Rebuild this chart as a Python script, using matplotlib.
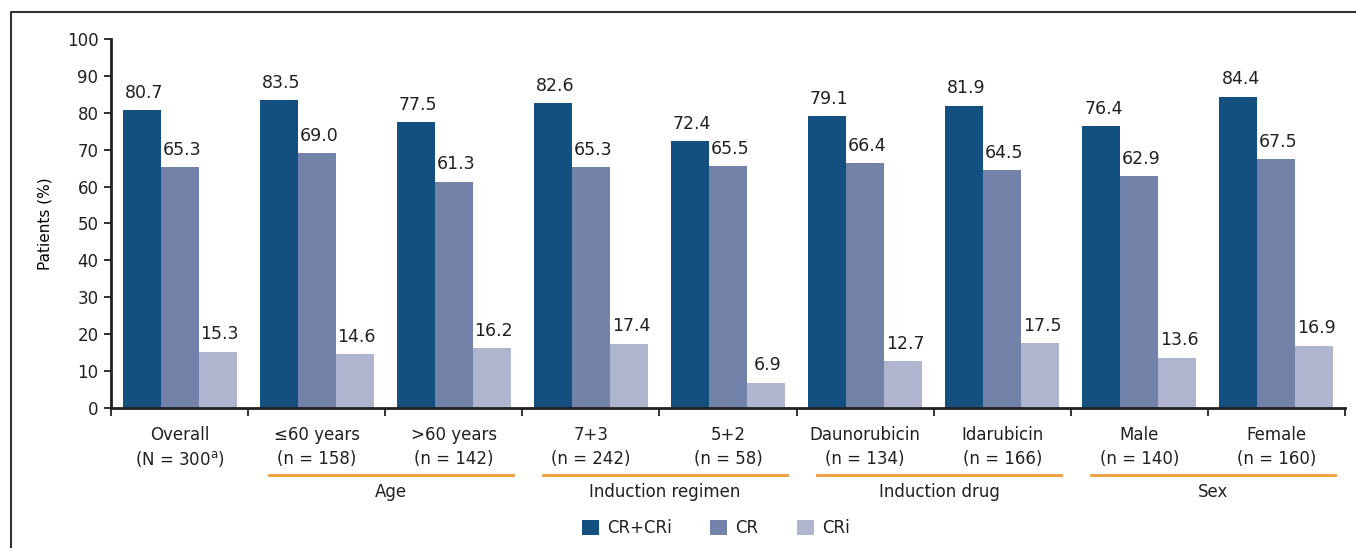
import matplotlib
matplotlib.use('Agg')
import matplotlib.pyplot as plt
from matplotlib.lines import Line2D
from matplotlib.patches import Patch
import numpy as np

categories = ["Overall", "≤60 years", ">60 years", "7+3", "5+2",
              "Daunorubicin", "Idarubicin", "Male", "Female"]
n_labels = ["(N = 300$^{\\mathrm{a}}$)", "(n = 158)", "(n = 142)", "(n = 242)", "(n = 58)",
            "(n = 134)", "(n = 166)", "(n = 140)", "(n = 160)"]
cr_cri = [80.7, 83.5, 77.5, 82.6, 72.4, 79.1, 81.9, 76.4, 84.4]
cr = [65.3, 69.0, 61.3, 65.3, 65.5, 66.4, 64.5, 62.9, 67.5]
cri = [15.3, 14.6, 16.2, 17.4, 6.9, 12.7, 17.5, 13.6, 16.9]
series_names = ["CR+CRi", "CR", "CRi"]
groups = ["Age", "Induction regimen", "Induction drug", "Sex"]
group_spans = [(1, 2), (3, 4), (5, 6), (7, 8)]

colors = ["#13507f", "#7382a8", "#afb4cf"]
text_color = "#231f20"
orange = "#f39a3b"

plt.rcParams['font.family'] = ['DejaVu Sans']
plt.rcParams['text.color'] = text_color
plt.rcParams['axes.edgecolor'] = text_color
plt.rcParams['xtick.color'] = text_color
plt.rcParams['ytick.color'] = text_color
plt.rcParams['mathtext.fontset'] = 'dejavusans'

W, H = 1356, 548
fig = plt.figure(figsize=(W / 100, H / 100), dpi=100)
ax = fig.add_axes([111 / W, 1 - 408 / H, (1345 - 111) / W, (408 - 39) / H])

x = np.arange(len(categories))
bw = 0.277
offsets = [-bw, 0, bw]
for vals, off, col, name in zip([cr_cri, cr, cri], offsets, colors, series_names):
    bars = ax.bar(x + off, vals, width=bw, color=col, label=name, zorder=2)
    for b, v in zip(bars, vals):
        ax.annotate(f"{v:.1f}", (b.get_x() + b.get_width() / 2, v),
                    xytext=(1.5, 6), textcoords='offset points',
                    ha='center', va='bottom', fontsize=12.5, color=text_color)

ax.set_xlim(-0.5, len(categories) - 0.5)
ax.set_ylim(0, 100)
ax.set_yticks(np.arange(0, 101, 10))
ax.tick_params(axis='y', direction='out', length=5, width=1.3, labelsize=12, pad=4)
ax.set_xticks(np.arange(-0.5, len(categories), 1))
ax.set_xticklabels([])
ax.tick_params(axis='x', direction='out', length=6, width=1.3)
for s in ['top', 'right']:
    ax.spines[s].set_visible(False)
ax.spines['left'].set_linewidth(2)
ax.spines['bottom'].set_linewidth(2)
ax.set_ylabel("Patients (%)", fontsize=11, labelpad=10)

px = 0.72  # points per pixel
for i, (c, n) in enumerate(zip(categories, n_labels)):
    ax.annotate(c, (i, 0), xycoords=('data', 'axes fraction'),
                xytext=(0, -27 * px), textcoords='offset points',
                ha='center', va='center', fontsize=12)
    ax.annotate(n, (i, 0), xycoords=('data', 'axes fraction'),
                xytext=(0, -51 * px), textcoords='offset points',
                ha='center', va='center', fontsize=12)

trans_line = matplotlib.transforms.blended_transform_factory(ax.transData, fig.transFigure)
for g, (a, b) in zip(groups, group_spans):
    x0 = a - 0.5 + 0.15
    x1 = b + 0.5 - 0.07
    fig.add_artist(Line2D([x0, x1], [1 - 475 / H, 1 - 475 / H], transform=trans_line,
                          color=orange, lw=2))
    fig.text((x0 + x1) / 2, 1 - 492 / H, g, transform=trans_line,
             ha='center', va='center', fontsize=12)

handles = [Patch(facecolor=c, edgecolor='none') for c in colors]
fig.legend(handles, series_names, loc='center', bbox_to_anchor=(716 / W, 1 - 528 / H),
           ncol=3, frameon=False, fontsize=12, handlelength=1.0, handleheight=1.0,
           handletextpad=0.5, columnspacing=2.3)

# outer frame (left and top)
fig.add_artist(Line2D([11 / W, 11 / W, 1.0], [0.0, 1 - 12 / H, 1 - 12 / H],
                      transform=fig.transFigure, color="#333333", lw=1.5))

fig.savefig("out.png", dpi=100)
